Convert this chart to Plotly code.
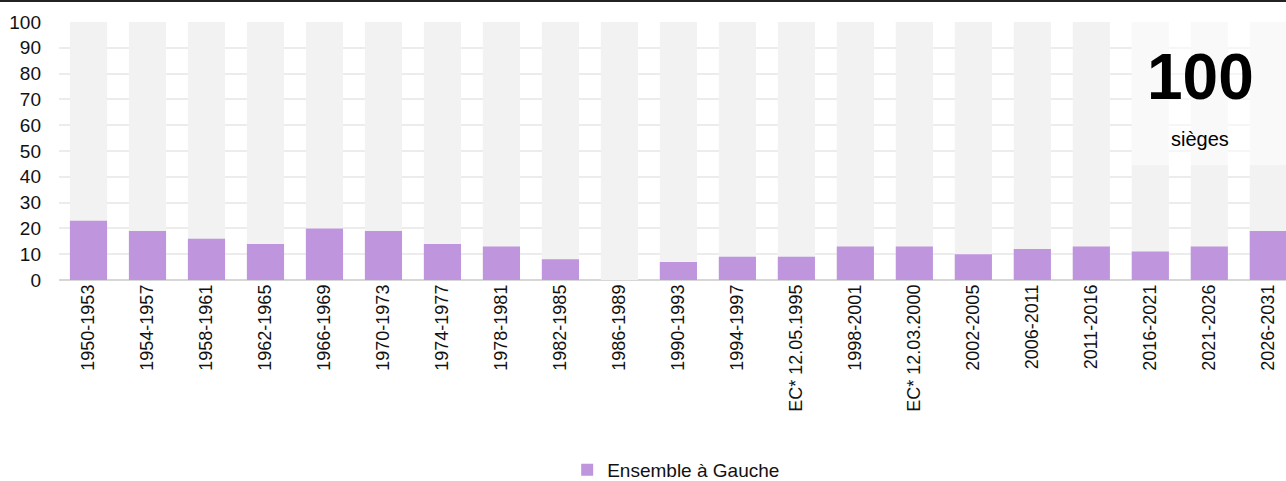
import plotly.graph_objects as go

categories = ["1950-1953", "1954-1957", "1958-1961", "1962-1965", "1966-1969", "1970-1973",
              "1974-1977", "1978-1981", "1982-1985", "1986-1989", "1990-1993", "1994-1997",
              "EC* 12.05.1995", "1998-2001", "EC* 12.03.2000", "2002-2005", "2006-2011",
              "2011-2016", "2016-2021", "2021-2026", "2026-2031"]
seats = [23, 19, 16, 14, 20, 19, 14, 13, 8, 0, 7, 9, 9, 13, 13, 10, 12, 13, 11, 13, 19]
total_seats = [100] * len(categories)
series_name = "Ensemble à Gauche"

FONT = "Liberation Sans, Arial, sans-serif"
x = list(range(len(categories)))

fig = go.Figure()
fig.add_trace(go.Bar(x=x, y=total_seats, marker=dict(color="#f2f2f2", line_width=0),
                     showlegend=False, hoverinfo="skip"))
fig.add_trace(go.Bar(x=x, y=seats, name=series_name,
                     marker=dict(color="#bf95de", line_width=0)))

fig.update_layout(
    width=1286, height=481,
    barmode="overlay", bargap=0.37,
    plot_bgcolor="white", paper_bgcolor="white",
    margin=dict(l=58.5, r=0, t=22, b=201, autoexpand=False),
    font=dict(family=FONT, size=18, color="#111111"),
    xaxis=dict(range=[-0.5, 20.3], tickmode="array", tickvals=x, ticktext=categories,
               tickangle=-90, showgrid=False, zeroline=False, showline=False,
               tickfont=dict(size=18), fixedrange=True, automargin=False),
    yaxis=dict(range=[0, 100], dtick=10, showgrid=True, gridcolor="#ececec", gridwidth=1.5,
               zeroline=True, zerolinecolor="#d6d6d6", zerolinewidth=2,
               ticklabelstandoff=17, tickfont=dict(size=19), fixedrange=True, automargin=False),
    legend=dict(orientation="h", x=0.503, xanchor="center", y=-0.736, yanchor="middle",
                font=dict(size=19), itemwidth=30),
    shapes=[
        dict(type="rect", xref="x", yref="y", x0=17.685, x1=20.6, y0=44.5, y1=100,
             fillcolor="rgba(255,255,255,0.55)", line_width=0, layer="above"),
        dict(type="line", xref="paper", yref="paper", x0=-0.1, x1=1.1,
             y0=1 + 21 / 258, y1=1 + 21 / 258, line=dict(color="#222222", width=2)),
    ],
    annotations=[
        dict(text="<b>100</b>", xref="paper", yref="y", x=0.93, y=78.5, showarrow=False,
             font=dict(family=FONT, size=64, color="black"), xanchor="center", yanchor="middle"),
        dict(text="sièges", xref="paper", yref="y", x=0.93, y=54.5, showarrow=False,
             font=dict(family=FONT, size=20, color="black"), xanchor="center", yanchor="middle"),
    ],
)

fig.write_html("out.html", config={"displayModeBar": False},
               post_script="document.body.style.margin='0px';document.body.style.overflow='hidden';")
